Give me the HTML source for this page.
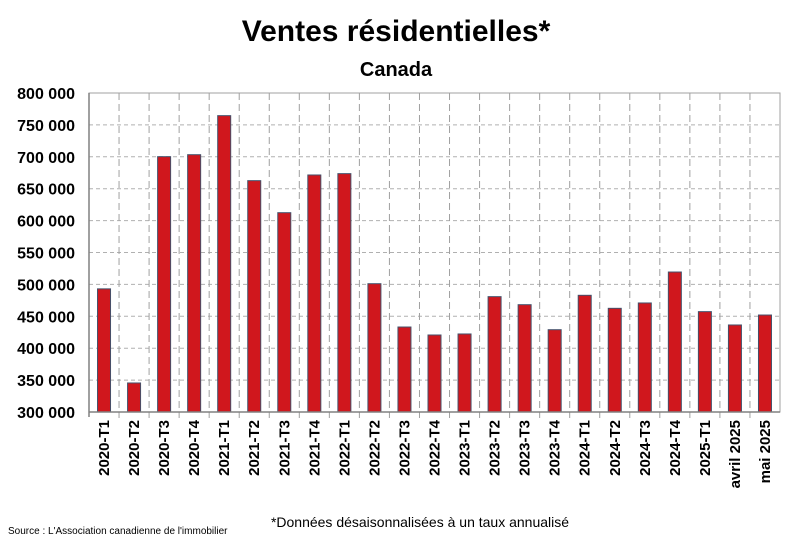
<!DOCTYPE html>
<html><head><meta charset="utf-8"><style>
body{margin:0;background:#fff;width:792px;height:542px;overflow:hidden;font-family:"Liberation Sans",sans-serif}
</style></head><body>
<svg width="792" height="542">
<text x="396" y="41" text-anchor="middle" font-size="30" font-weight="bold">Ventes résidentielles*</text>
<text x="396" y="76" text-anchor="middle" font-size="20" font-weight="bold">Canada</text>
<g id="grid"></g><g id="bars"></g><g id="axes"></g>
<text x="420" y="527" text-anchor="middle" font-size="14">*Données désaisonnalisées à un taux annualisé</text>
<text x="8" y="534" font-size="10">Source : L'Association canadienne de l'immobilier</text>
</svg>
<script>
const categories=["2020-T1","2020-T2","2020-T3","2020-T4","2021-T1","2021-T2","2021-T3","2021-T4","2022-T1","2022-T2","2022-T3","2022-T4","2023-T1","2023-T2","2023-T3","2023-T4","2024-T1","2024-T2","2024-T3","2024-T4","2025-T1","avril 2025","mai 2025"];
const values=[493000,345500,700200,703300,764500,662600,612400,671500,673600,501100,433200,420700,422300,480800,468200,429000,482900,462500,470900,519400,457300,436400,452000];
const yTicks=[300000,350000,400000,450000,500000,550000,600000,650000,700000,750000,800000];
const yTickLabels=["300 000","350 000","400 000","450 000","500 000","550 000","600 000","650 000","700 000","750 000","800 000"];
const L=89,R=780,T=93,B=412,yMin=300000,yMax=800000;
const ns="http://www.w3.org/2000/svg";
const y=v=>B-(v-yMin)/(yMax-yMin)*(B-T);
const cw=(R-L)/categories.length;
const x=i=>L+cw*i+cw/2;
function mk(p,tag,at){const e=document.createElementNS(ns,tag);for(const k in at)e.setAttribute(k,at[k]);document.getElementById(p).appendChild(e);return e;}
yTicks.forEach((t,i)=>{
 if(i>0&&i<yTicks.length-1){const g=mk("grid","line",{x1:L,x2:R,y1:y(t),y2:y(t),stroke:"#b0b0b0","stroke-dasharray":"4,3"});
 
 }
 const tx=mk("axes","text",{x:L-14,y:y(t)+6,"text-anchor":"end","font-size":"16","font-weight":"bold"});
 tx.textContent=yTickLabels[i];
 
 
});
categories.forEach((c,i)=>{
 if(i>0){const g=mk("grid","line",{x1:L+cw*i,x2:L+cw*i,y1:T,y2:B+6,stroke:"#a0a0a0","stroke-dasharray":"7,4"});
 
 }
 const b=mk("bars","rect",{x:x(i)-6.5,y:y(values[i]),width:13,height:B-y(values[i]),fill:"#d0171d",stroke:"#44506a","stroke-width":"1"});
 
 
 const tx=mk("axes","text",{transform:`translate(${x(i)+5},${B+8}) rotate(-90)`,"text-anchor":"end","font-size":"15","font-weight":"bold"});
 tx.textContent=c;
 
 
});
const a=mk("axes","rect",{x:L,y:T,width:R-L,height:B-T,fill:"none",stroke:"#a0a0a0","stroke-width":"1"});


const xa=mk("axes","line",{x1:L,x2:R,y1:B,y2:B,stroke:"#808080","stroke-width":"1.5"});


const ya=mk("axes","line",{x1:L,x2:L,y1:T,y2:B+5,stroke:"#808080","stroke-width":"1.5"});


</script>
</body></html>
